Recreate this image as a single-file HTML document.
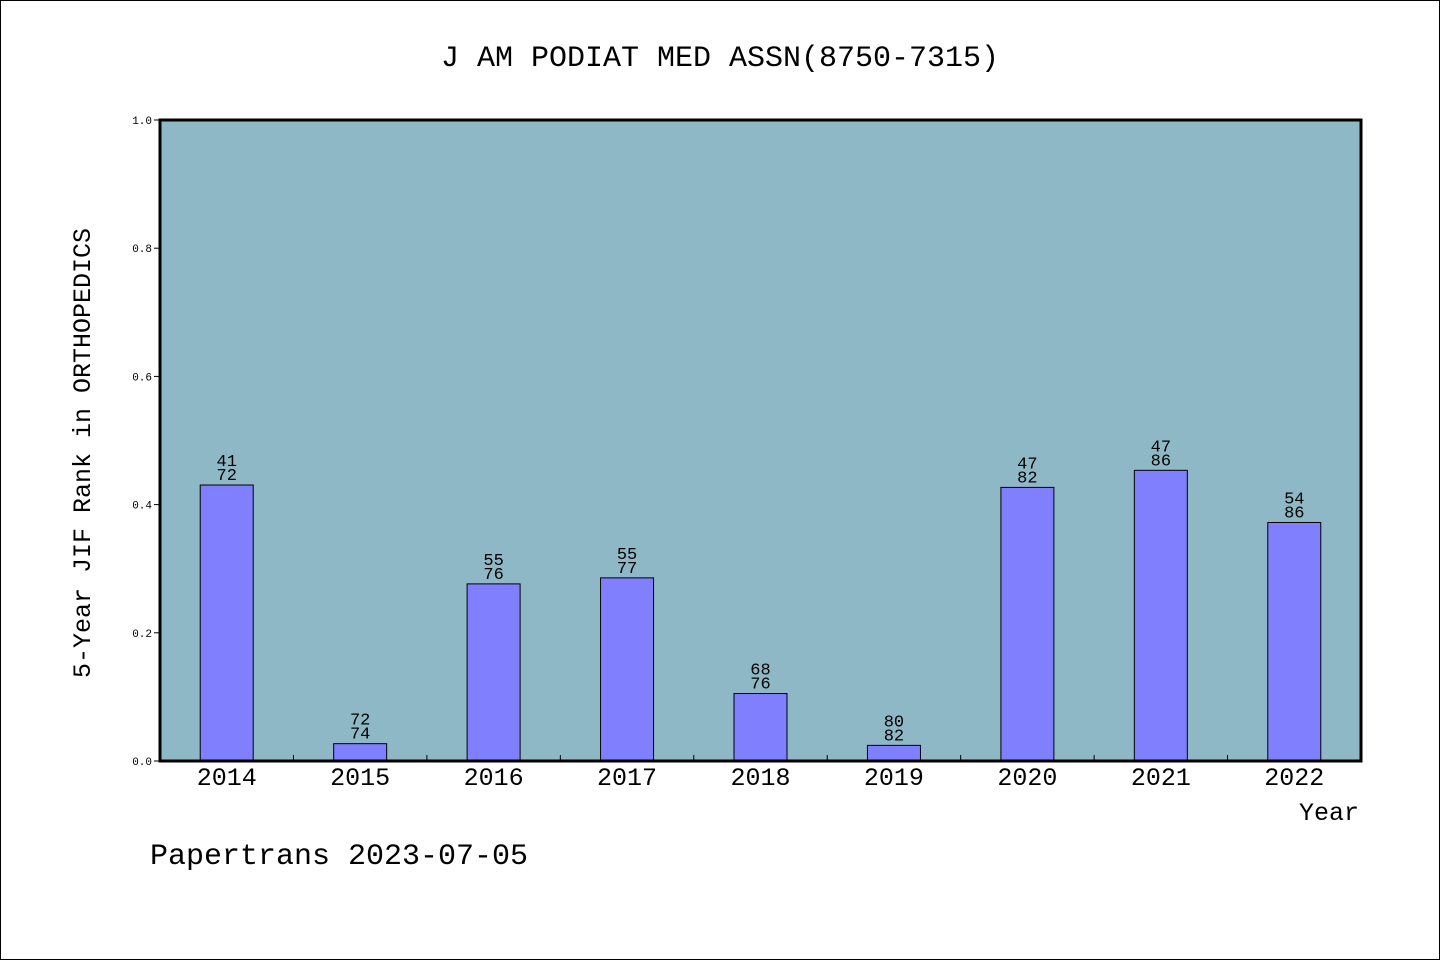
<!DOCTYPE html>
<html><head><meta charset="utf-8"><style>
body{margin:0;background:#fff;}
svg{display:block;font-family:"Liberation Mono","WenQuanYi Zen Hei",monospace;}
</style></head><body>
<svg id="chart" width="1440" height="960" xmlns="http://www.w3.org/2000/svg">
<rect x="0.5" y="0.5" width="1439" height="959" fill="#fff" stroke="#000"/>
<text x="720" y="66" text-anchor="middle" font-size="30">J AM PODIAT MED ASSN(8750-7315)</text>
<rect x="160" y="120" width="1201" height="641" fill="#8fb8c6"/>
<g id="marks"></g>
<rect x="160" y="120" width="1201" height="641" fill="none" stroke="#000" stroke-width="3"/>
<text transform="translate(90,453) rotate(-90)" text-anchor="middle" font-size="25">5-Year JIF Rank in ORTHOPEDICS</text>
<text x="1359" y="820" text-anchor="end" font-size="25">Year</text>
<text x="150" y="864" font-size="30">Papertrans 2023-07-05</text>
</svg>
<script>
const years=["2014","2015","2016","2017","2018","2019","2020","2021","2022"];
const ranks=[41,72,55,55,68,80,47,47,54];
const totals=[72,74,76,77,76,82,82,86,86];
const yTicks=[0,0.2,0.4,0.6,0.8,1.0];
const X0=160,W=1201,Y0=761,H=641;
const band=W/years.length;
const xc=i=>X0+band*(i+0.5);
const y=v=>Y0-v*H;
const g=document.getElementById('marks');
const NS="http://www.w3.org/2000/svg";
function mk(t,a){const e=document.createElementNS(NS,t);for(const k in a)e.setAttribute(k,a[k]);g.appendChild(e);return e;}
yTicks.forEach(v=>{
 const l=mk('line',{x1:X0-6,x2:X0,y1:y(v),y2:y(v),stroke:'#000'});
 
 
 const t=mk('text',{x:X0-8,y:y(v)+4,'text-anchor':'end','font-size':11});
 t.textContent=v.toFixed(1);
 
 
});
for(let i=1;i<years.length;i++){
 const l=mk('line',{x1:X0+band*i,x2:X0+band*i,y1:Y0,y2:Y0-6,stroke:'#000'});
 
 
}
years.forEach((yr,i)=>{
 const v=(totals[i]-ranks[i])/totals[i];
 const b=mk('rect',{x:xc(i)-26.5,y:y(v),width:53,height:Y0-y(v),fill:'#8080ff',stroke:'#000','stroke-width':1});
 
 
 const t1=mk('text',{x:xc(i),y:y(v)-19,'text-anchor':'middle','font-size':17});
 t1.textContent=ranks[i];
 
 
 const t2=mk('text',{x:xc(i),y:y(v)-5,'text-anchor':'middle','font-size':17});
 t2.textContent=totals[i];
 
 
 const xl=mk('text',{x:xc(i),y:785,'text-anchor':'middle','font-size':25});
 xl.textContent=yr;
 
 
});
</script>
</body></html>
